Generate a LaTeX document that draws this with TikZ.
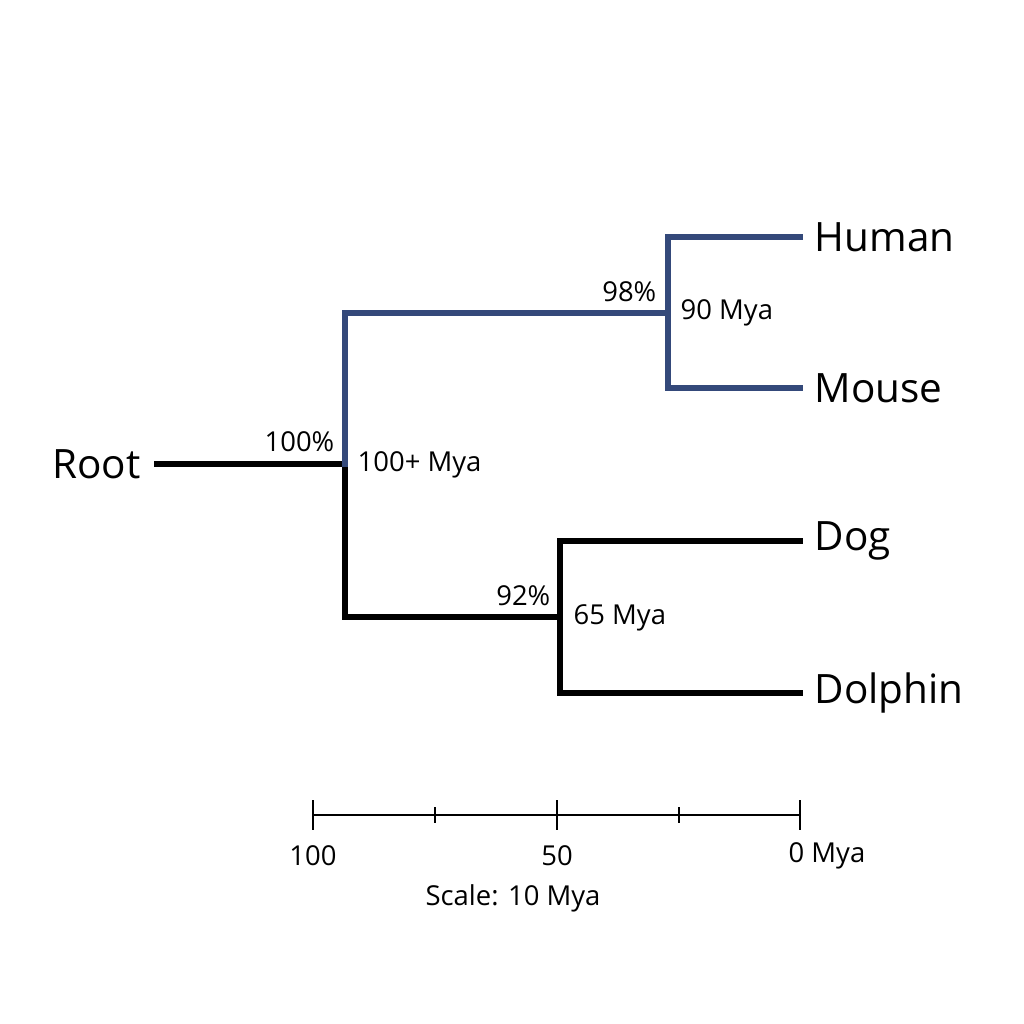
\documentclass[tikz,border=0pt]{standalone}
\usepackage{fontspec}
\setmainfont{Open Sans}
\definecolor{treeblue}{HTML}{34497A}
\begin{document}
\begin{tikzpicture}[x=0.01cm,y=-0.01cm,
  br/.style={line width=1.7pt,line cap=rect},
  leaf/.style={font=\fontsize{11.5}{13}\selectfont,anchor=west,inner sep=0},
  sm/.style={font=\fontsize{7.8}{9}\selectfont,inner sep=0},
  bar/.style={line width=0.6pt}]
\useasboundingbox (0,0) rectangle (1024,1024);
\coordinate (r0) at (157,464);
\coordinate (n1) at (345,464);
\coordinate (n1t) at (345,313);
\coordinate (n1b) at (345,617);
\coordinate (n2) at (668,313);
\coordinate (n2t) at (668,237);
\coordinate (n2b) at (668,388);
\coordinate (n3) at (560,617);
\coordinate (n3t) at (560,541);
\coordinate (n3b) at (560,693);
\node[leaf,anchor=east] (root) at (141,464) {Root};
\node[leaf] (hu) at (814,237) {Human};
\node[leaf] (mo) at (814,388) {Mouse};
\node[leaf] (dg) at (814,541) {Dog};
\node[leaf] (dp) at (814,693) {Dolphin};
\draw[br] (r0) -- (n1) -- (n1b) -- (n3);
\draw[br] (n3t) -- (n3b);
\draw[br] (n3t) -- (800,541) coordinate (e3);
\draw[br] (n3b) -- (800,693) coordinate (e4);
\draw[br,treeblue] (n1) -- (n1t) -- (n2);
\draw[br,treeblue] (n2t) -- (n2b);
\draw[br,treeblue] (n2t) -- (800,237) coordinate (e1);
\draw[br,treeblue] (n2b) -- (800,388) coordinate (e2);
\node[sm,anchor=east] (p1) at (335,442) {100\%};
\node[sm,anchor=west] (m1) at (357,465) {100+ Mya};
\node[sm,anchor=east] (p2) at (657,292) {98\%};
\node[sm,anchor=west] (m2) at (680,313) {90 Mya};
\node[sm,anchor=east] (p3) at (551,596) {92\%};
\node[sm,anchor=west] (m3) at (573,618) {65 Mya};
% scale bar
\coordinate (s0) at (313,815);
\coordinate (s4) at (800,815);
\draw[bar] (s0) -- (s4);
\foreach \x/\h in {313/15,435/8,557/15,679/8,800/15}
  \draw[bar] (\x,815-\h) -- (\x,815+\h);
\node[sm] (l100) at (313,856) {100};
\node[sm] (l50) at (557,856) {50};
\node[sm] (l0) at (827,856) {0 Mya};
\node[sm] (sc) at (513,898) {Scale: 10 Mya};
\end{tikzpicture}
\end{document}
